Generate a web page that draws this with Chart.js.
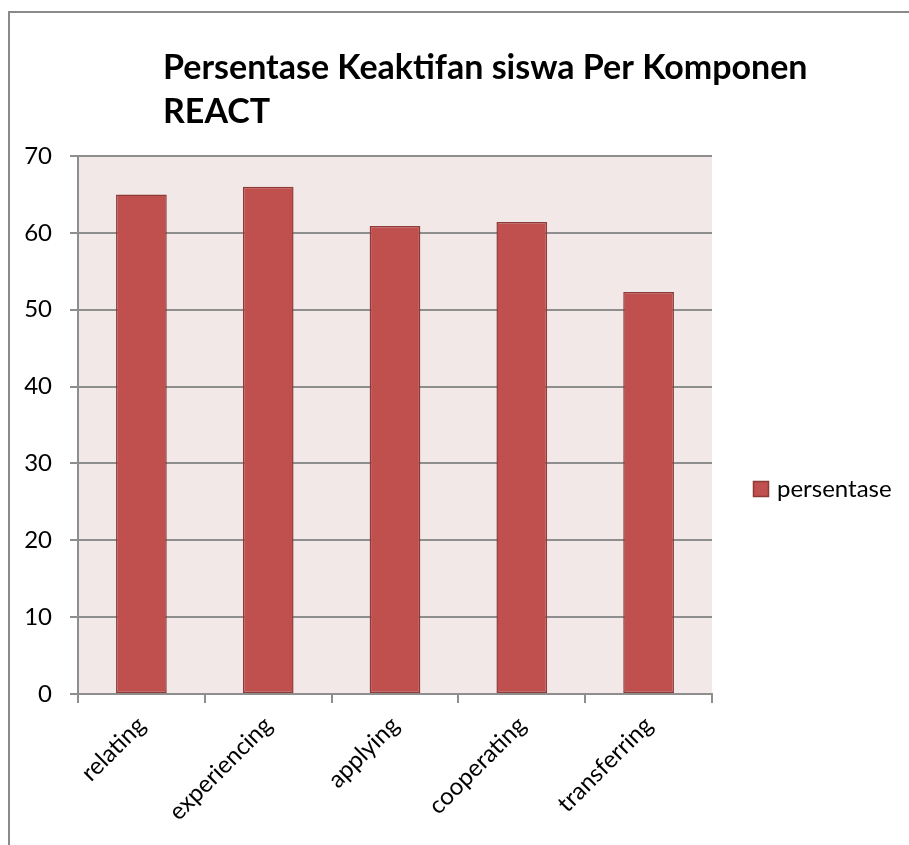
<!DOCTYPE html>
<html>
<head>
<meta charset="utf-8">
<script src="https://cdn.jsdelivr.net/npm/chart.js@4"></script>
<style>
  html, body { margin: 0; padding: 0; background: #fff; }
  #wrap { width: 909px; height: 845px; }
</style>
</head>
<body>
<div id="wrap"><canvas id="myChart" width="909" height="845"></canvas></div>
<script>
const CATEGORIES = ['relating', 'experiencing', 'applying', 'cooperating', 'transferring'];
const PERSENTASE = [65.0, 66.0, 60.9, 61.4, 52.3];
const Y_TICKS = [0, 10, 20, 30, 40, 50, 60, 70];
const SERIES_LABEL = 'persentase';
const TITLE_LINES = ['Persentase Keaktifan siswa Per Komponen', 'REACT'];

const FONT = 'Lato, Carlito, Calibri, sans-serif';
const BAR_FILL = '#c0504d';
const BAR_EDGE = '#8c3b39';
const PLOT_BG = '#f2e8e8';
const GRID = '#8e8e8e';

// frame, plot background, title and legend drawn around the chart area
const decorations = {
  id: 'decorations',
  beforeDraw(chart) {
    const ctx = chart.ctx;
    const area = chart.chartArea;
    ctx.save();
    ctx.fillStyle = '#fff';
    ctx.fillRect(0, 0, chart.width, chart.height);
    ctx.strokeStyle = '#8a8a8a';
    ctx.lineWidth = 2;
    ctx.strokeRect(9, 12, chart.width + 50, chart.height + 50);
    ctx.fillStyle = PLOT_BG;
    ctx.fillRect(area.left, area.top, area.right - area.left, area.bottom - area.top);
    ctx.restore();
  },
  afterDraw(chart) {
    const ctx = chart.ctx;
    const ds = chart.data.datasets[0];
    ctx.save();
    ctx.fillStyle = '#000';
    ctx.font = 'bold 34px ' + FONT;
    ctx.textBaseline = 'alphabetic';
    ctx.textAlign = 'left';
    TITLE_LINES.forEach((line, i) => {
      ctx.fillText(line, 163, 79 + i * 44);
    });

    // legend
    ctx.fillStyle = ds.backgroundColor;
    ctx.fillRect(753, 481, 16, 16);
    ctx.strokeStyle = ds.borderColor;
    ctx.lineWidth = 1.5;
    ctx.strokeRect(753.5, 481.5, 15, 15);
    ctx.fillStyle = '#000';
    ctx.font = '24px ' + FONT;
    ctx.textBaseline = 'middle';
    ctx.fillText(ds.label, 777, 489);
    ctx.restore();
  }
};

const ctx = document.getElementById('myChart');
const chart = new Chart(ctx, {
  type: 'bar',
  data: {
    labels: CATEGORIES,
    datasets: [{
      label: SERIES_LABEL,
      data: PERSENTASE,
      backgroundColor: BAR_FILL,
      borderColor: BAR_EDGE,
      borderWidth: 1.5,
      borderSkipped: false,
      categoryPercentage: 1,
      barPercentage: 0.4,
    }]
  },
  options: {
    responsive: false,
    animation: false,
    devicePixelRatio: 1,
    layout: {
      padding: { top: 156, right: 197, bottom: 0, left: 0 }
    },
    scales: {
      x: {
        offset: true,
        grid: {
          drawOnChartArea: false,
          drawTicks: true,
          tickLength: 9,
          color: GRID,
          lineWidth: 2,
          offset: true,
        },
        border: { color: GRID, width: 2 },
        ticks: {
          minRotation: 45,
          maxRotation: 45,
          padding: 8,
          color: '#000',
          font: { family: FONT, size: 24 },
        },
        afterFit(scale) {
          scale.height = 151;
        }
      },
      y: {
        min: 0,
        max: 70,
        grid: {
          color: GRID,
          lineWidth: 2,
          tickLength: 8,
        },
        border: { color: GRID, width: 2 },
        ticks: {
          stepSize: 10,
          padding: 18,
          color: '#000',
          font: { family: FONT, size: 24 },
        },
        afterBuildTicks(scale) {
          scale.ticks = Y_TICKS.map(v => ({ value: v }));
        },
        afterFit(scale) {
          scale.width = 78;
        }
      }
    },
    plugins: {
      title: { display: false },
      legend: { display: false },
      tooltip: { enabled: false },
    }
  },
  plugins: [decorations]
});
</script>
</body>
</html>
